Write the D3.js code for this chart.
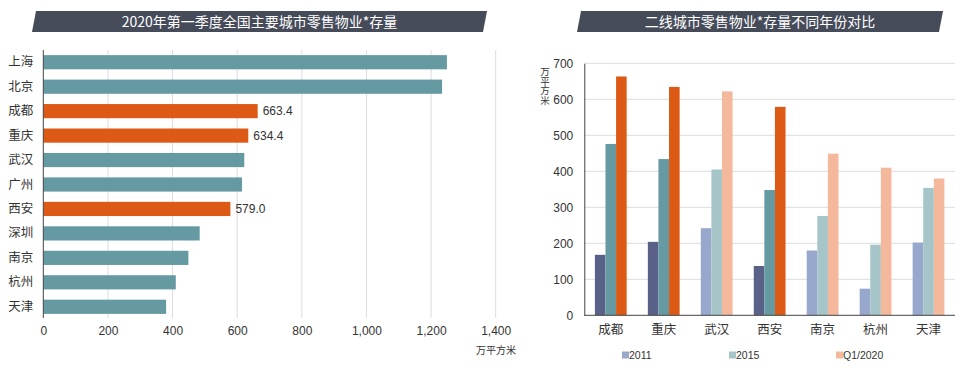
<!DOCTYPE html>
<html>
<head>
<meta charset="utf-8">
<script src="https://cdn.jsdelivr.net/npm/d3@7"></script>
<style>
  body { margin: 0; background: #fff; }
  svg { display: block; font-family: "Liberation Sans", Arial, "Noto Sans CJK SC", sans-serif; }
  .cn { font-family: "Noto Sans CJK SC", sans-serif; }
</style>
</head>
<body>
<script>
// left chart data
var leftCities = ['上海', '北京', '成都', '重庆', '武汉', '广州', '西安', '深圳', '南京', '杭州', '天津'];
var leftValues = [1249, 1234, 663.4, 634.4, 622, 615, 579.0, 484, 449, 410, 380];
var highlighted = ['成都', '重庆', '西安'];
var leftTicks = [0, 200, 400, 600, 800, 1000, 1200, 1400];

// right chart data
var rightCities = ['成都', '重庆', '武汉', '西安', '南京', '杭州', '天津'];
var seriesNames = ['2011', '2015', 'Q1/2020'];
var values2011 = [168, 204, 242, 137, 180, 74, 202];
var values2015 = [476, 434, 405, 348, 276, 196, 354];
var valuesQ1 = [663.4, 634.4, 622, 579.0, 449, 410, 380];
var rightTicks = [0, 100, 200, 300, 400, 500, 600, 700];

var darkColors = ['#596189', '#659aa2', '#dc5a16'];
var lightColors = ['#97a8cc', '#a6c5c8', '#f4b99c'];

var svg = d3.select('body').append('svg')
    .attr('width', 964)
    .attr('height', 373);

//title banners (slanted)
function banner(x0, x1, text) {
    svg.append('path')
        .attr('d', 'M' + (x0 + 4) + ',11 L' + (x1 + 4) + ',11 L' + x1 + ',32 L' + x0 + ',32 Z')
        .attr('fill', '#464b5a');
    svg.append('text')
        .attr('class', 'cn')
        .attr('x', (x0 + x1) / 2 + 2)
        .attr('y', 22)
        .attr('dy', '0.35em')
        .attr('text-anchor', 'middle')
        .attr('fill', '#fff')
        .attr('font-size', 14)
        .text(text);
}
banner(32, 483, '2020年第一季度全国主要城市零售物业*存量');
banner(577, 939, '二线城市零售物业*存量不同年份对比');

// ---- left: horizontal bars ----
var lx = d3.scaleLinear().domain([0, 1400]).range([43.3, 495.7]);
var ly = d3.scaleBand().domain(leftCities).range([50, 319]).paddingInner(0.42).paddingOuter(0.21);

var left = svg.append('g');

left.selectAll('.vgrid')
    .data(leftTicks.slice(1))
    .enter().append('line')
    .attr('x1', function(d) { return lx(d); })
    .attr('x2', function(d) { return lx(d); })
    .attr('y1', 50).attr('y2', 318)
    .attr('stroke', '#dcdcdc')
    .attr('stroke-width', 1);

var lxAxis = d3.axisBottom(lx).tickValues(leftTicks).tickSize(0).tickPadding(0)
    .tickFormat(d3.format(','));
left.append('g')
    .attr('transform', 'translate(0,326)')
    .call(lxAxis)
    .call(function(g) {
        g.select('.domain').remove();
        g.selectAll('text').attr('font-size', 12).attr('fill', '#333').attr('font-family', '"Liberation Sans", Arial, sans-serif');
    });

left.selectAll('.bar')
    .data(leftCities)
    .enter().append('rect')
    .attr('x', lx(0))
    .attr('y', function(d) { return ly(d); })
    .attr('width', function(d, i) { return lx(leftValues[i]) - lx(0); })
    .attr('height', ly.bandwidth())
    .attr('fill', function(d) { return highlighted.indexOf(d) >= 0 ? darkColors[2] : darkColors[1]; });

left.selectAll('.vlabel')
    .data(leftCities.filter(function(d) { return highlighted.indexOf(d) >= 0; }))
    .enter().append('text')
    .attr('x', function(d) { return lx(leftValues[leftCities.indexOf(d)]) + 5; })
    .attr('y', function(d) { return ly(d) + ly.bandwidth() / 2; })
    .attr('dy', '0.35em')
    .attr('font-size', 12)
    .attr('fill', '#333')
    .text(function(d) { return d3.format('.1f')(leftValues[leftCities.indexOf(d)]); });

var lyAxis = d3.axisLeft(ly).tickSize(0).tickPadding(10);
left.append('g')
    .attr('transform', 'translate(' + lx(0) + ',0)')
    .call(lyAxis)
    .call(function(g) {
        g.select('.domain').attr('stroke', '#444').attr('d', 'M0,50V318');
        g.selectAll('text').attr('class', 'cn').attr('font-size', 12.5).attr('fill', '#333');
    });

left.append('text')
    .attr('class', 'cn')
    .attr('x', 516).attr('y', 350)
    .attr('dy', '0.35em')
    .attr('text-anchor', 'end')
    .attr('font-size', 10)
    .attr('fill', '#333')
    .text('万平方米');

// ---- right: grouped bars ----
var rx = d3.scaleBand().domain(rightCities).range([584.3, 955]).paddingInner(0.4).paddingOuter(0.2);
var rs = d3.scaleBand().domain(seriesNames).range([0, rx.bandwidth()]);
var ry = d3.scaleLinear().domain([0, 700]).range([315.3, 63.3]);
var seriesValues = [values2011, values2015, valuesQ1];

var right = svg.append('g');

right.selectAll('.hgrid')
    .data(rightTicks.slice(1))
    .enter().append('line')
    .attr('x1', 584.3).attr('x2', 955)
    .attr('y1', function(d) { return ry(d); })
    .attr('y2', function(d) { return ry(d); })
    .attr('stroke', '#dcdcdc');

var groups = right.selectAll('.grp')
    .data(rightCities)
    .enter().append('g')
    .attr('transform', function(d) { return 'translate(' + rx(d) + ',0)'; });

groups.each(function(city, ci) {
    var isHi = highlighted.indexOf(city) >= 0;
    d3.select(this).selectAll('rect')
        .data(seriesNames)
        .enter().append('rect')
        .attr('x', function(s) { return rs(s); })
        .attr('y', function(s, si) { return ry(seriesValues[si][ci]); })
        .attr('width', rs.bandwidth())
        .attr('height', function(s, si) { return ry(0) - ry(seriesValues[si][ci]); })
        .attr('fill', function(s, si) { return isHi ? darkColors[si] : lightColors[si]; });
});

var ryAxis = d3.axisLeft(ry).tickValues(rightTicks).tickSize(0).tickPadding(11);
right.append('g')
    .attr('transform', 'translate(584.3,0)')
    .call(ryAxis)
    .call(function(g) {
        g.select('.domain').attr('stroke', '#444');
        g.selectAll('text').attr('font-size', 12).attr('fill', '#333').attr('font-family', '"Liberation Sans", Arial, sans-serif');
    });

var rxAxis = d3.axisBottom(rx).tickSize(0).tickPadding(10);
right.append('g')
    .attr('transform', 'translate(0,315.3)')
    .call(rxAxis)
    .call(function(g) {
        g.select('.domain').attr('stroke', '#444').attr('d', 'M584.3,0H955');
        g.selectAll('text').attr('class', 'cn').attr('font-size', 12.5).attr('fill', '#333');
    });

// vertical unit label
right.append('text')
    .attr('class', 'cn')
    .attr('x', 545)
    .attr('y', 67)
    .style('writing-mode', 'vertical-rl')
    .style('glyph-orientation-vertical', '0')
    .attr('font-size', 9.5)
    .attr('fill', '#333')
    .text('万平方米');

// legend
var legendX = [626, 733, 840];
var legend = right.selectAll('.leg')
    .data(seriesNames)
    .enter().append('g')
    .attr('transform', function(d, i) { return 'translate(' + legendX[i] + ',355)'; });
legend.append('rect')
    .attr('x', -4).attr('y', -3.5)
    .attr('width', 7).attr('height', 7)
    .attr('fill', function(d, i) { return lightColors[i]; });
legend.append('text')
    .attr('x', 3).attr('dy', '0.35em')
    .attr('font-size', 10.5)
    .attr('fill', '#333')
    .text(function(d) { return d; });
</script>
</body>
</html>
